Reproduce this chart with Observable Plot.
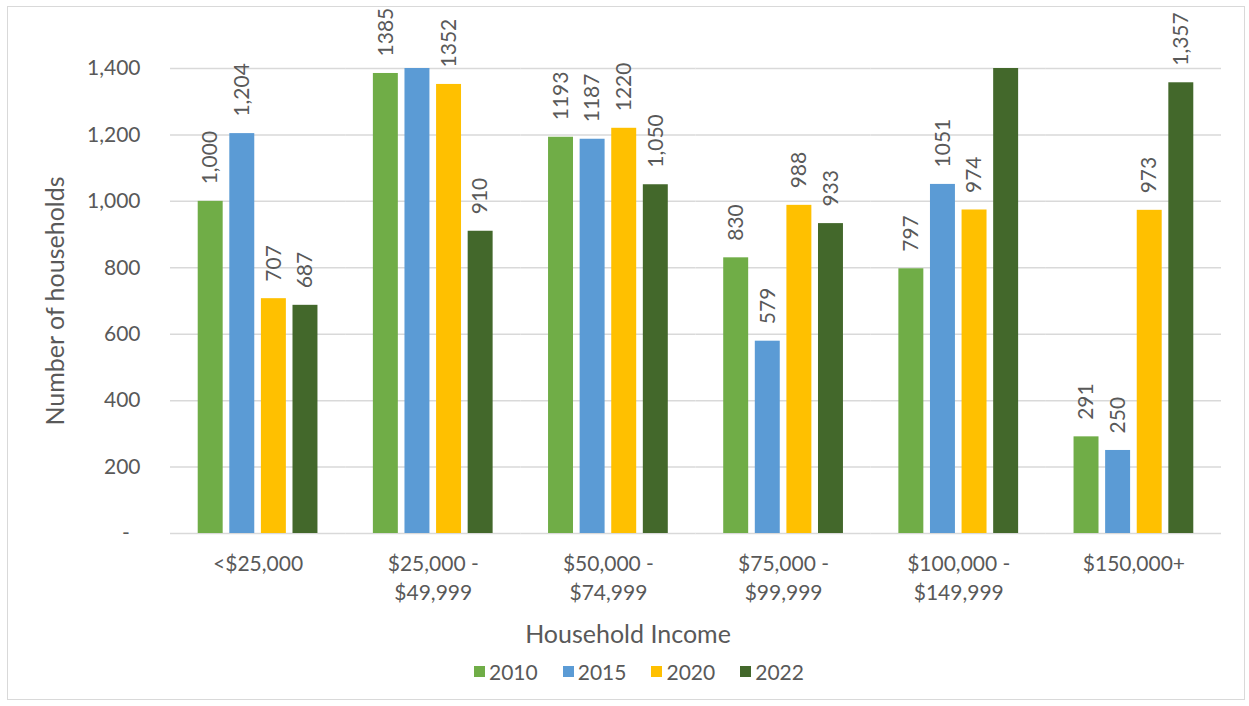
<!DOCTYPE html>
<html>
<head>
<meta charset="utf-8">
<script src="https://cdn.jsdelivr.net/npm/d3@7"></script>
<script src="https://cdn.jsdelivr.net/npm/@observablehq/plot@0.6"></script>
<style>
  html, body { margin: 0; padding: 0; background: #ffffff; }
  #wrap { position: relative; width: 1249px; height: 706px; overflow: hidden; font-family: Lato, sans-serif; color: #595959; }
  #border { position: absolute; left: 7px; top: 6px; width: 1238px; height: 694px; border: 1.5px solid #d9d9d9; box-sizing: border-box; pointer-events: none; }
  #chart svg { display: block; }
  #xtitle { position: absolute; left: 7px; width: 1242px; top: 617px; height: 32px; line-height: 32px; text-align: center; font-size: 25px; }
  #legend { position: absolute; left: 0; width: 1249px; top: 657px; height: 28px; display: flex; justify-content: flex-start; padding-left: 474px; box-sizing: border-box; align-items: center; gap: 25px; font-size: 21px; }
  .item { display: flex; align-items: center; gap: 4px; }
  .sw { width: 11px; height: 11px; display: inline-block; }
</style>
</head>
<body>
<div id="wrap">
  <div id="chart"></div>
  <div id="xtitle">Household Income</div>
  <div id="legend"></div>
  <div id="border"></div>
</div>
<script>
const categories = ["<$25,000", "$25,000 -\n$49,999", "$50,000 -\n$74,999", "$75,000 -\n$99,999", "$100,000 -\n$149,999", "$150,000+"];
const years = ["2010", "2015", "2020", "2022"];
const values2010 = [1000, 1385, 1193, 830, 797, 291];
const values2015 = [1204, 1450, 1187, 579, 1051, 250];
const values2020 = [707, 1352, 1220, 988, 974, 973];
const values2022 = [687, 910, 1050, 933, 1480, 1357];
const labels2010 = ["1,000", "1385", "1193", "830", "797", "291"];
const labels2015 = ["1,204", "", "1187", "579", "1051", "250"];
const labels2020 = ["707", "1352", "1220", "988", "974", "973"];
const labels2022 = ["687", "910", "1,050", "933", "", "1,357"];
const colors = ["#70AD47", "#5B9BD5", "#FFC000", "#43682B"];
const yTicks = [0, 200, 400, 600, 800, 1000, 1200, 1400];

const series = [
  [values2010, labels2010],
  [values2015, labels2015],
  [values2020, labels2020],
  [values2022, labels2022]
];
const rows = [];
categories.forEach((cat, i) => {
  years.forEach((yr, j) => {
    rows.push({cat, year: yr, value: series[j][0][i], label: series[j][1][i]});
  });
});

const fmt = d3.format(",");
const chart = Plot.plot({
  width: 1249,
  height: 612,
  marginLeft: 170,
  marginRight: 28,
  marginTop: 68,
  marginBottom: 79,
  style: {fontFamily: "Lato, sans-serif", fontSize: "21px", color: "#595959", background: "transparent", overflow: "visible"},
  fx: {domain: categories, padding: 0, round: false},
  x: {domain: years, paddingInner: 0.21, paddingOuter: 0.877, round: false, axis: null},
  y: {domain: [0, 1400], clamp: true},
  color: {domain: years, range: colors},
  marks: [
    Plot.gridY({ticks: yTicks, stroke: "#d9d9d9", strokeOpacity: 1, strokeWidth: 1.5}),
    Plot.barY(rows, {fx: "cat", x: "year", y: "value", fill: "year"}),
    Plot.text(rows.filter(d => d.label), {
      fx: "cat", x: "year", y: "value", text: "label",
      rotate: -90, textAnchor: "start", lineAnchor: "middle", dy: -17,
      fill: "#595959", fontSize: 21
    }),
    Plot.axisY({
      ticks: yTicks,
      tickFormat: d => d === 0 ? "-\u00a0\u00a0" : fmt(d),
      tickSize: 0, tickPadding: 30, fontSize: 21,
      label: null
    }),
    Plot.axisY({
      ticks: [], tickSize: 0,
      label: "Number of households", labelAnchor: "center", labelOffset: 124, labelArrow: "none", fontSize: 25
    }),
    Plot.axisFx({anchor: "bottom", tickSize: 0, tickPadding: 17, label: null, fontSize: 21, lineHeight: 1.38})
  ]
});
document.getElementById("chart").appendChild(chart);

const legend = document.getElementById("legend");
years.forEach((yr, j) => {
  const item = document.createElement("div");
  item.className = "item";
  const sw = document.createElement("span");
  sw.className = "sw";
  sw.style.background = colors[j];
  const t = document.createElement("span");
  t.textContent = yr;
  item.appendChild(sw);
  item.appendChild(t);
  legend.appendChild(item);
});
</script>
</body>
</html>
